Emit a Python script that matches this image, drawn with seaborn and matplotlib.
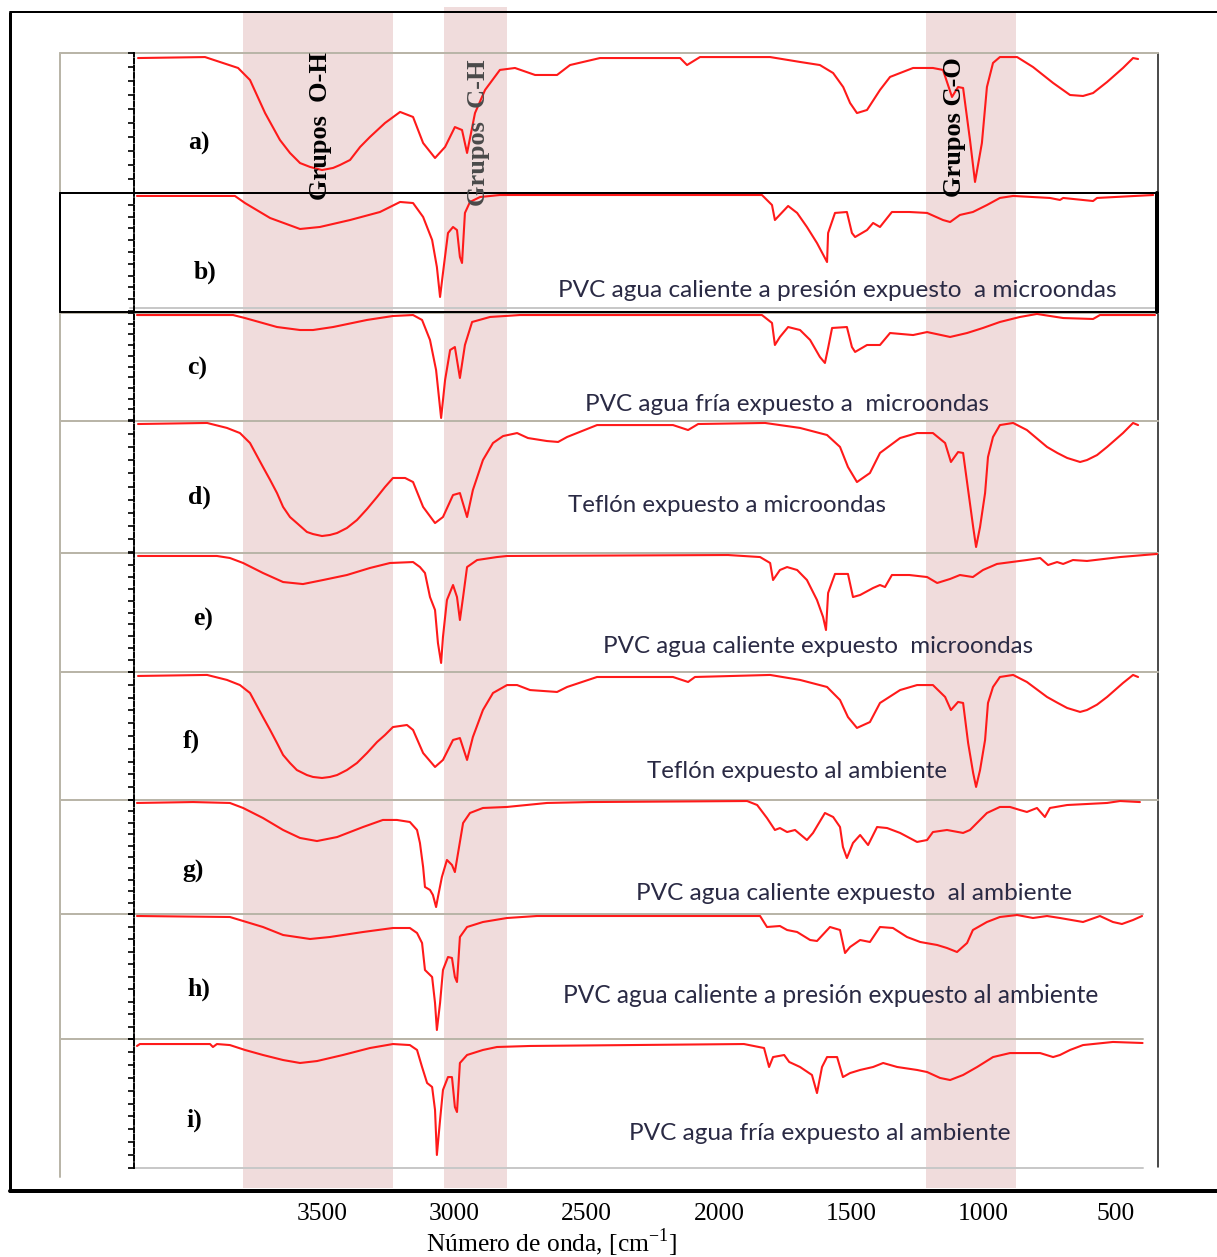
import numpy as np
import pandas as pd
import matplotlib
matplotlib.use("Agg")
import matplotlib.pyplot as plt
import seaborn as sns
from matplotlib.patches import Rectangle

# ---------------------------------------------------------------- data
# FTIR spectra: wavenumber [cm-1] and transmittance [% of panel height]
A_WN = [4195, 3942, 3817, 3772, 3715, 3659, 3621, 3583, 3545, 3500, 3458, 3432, 3394, 3356, 3319, 3262, 3205, 3156, 3118, 3073,
        3035, 2998, 2971, 2952, 2922, 2884, 2828, 2771, 2695, 2612, 2563, 2450, 2147, 2121, 2072, 1807, 1694, 1619, 1569, 1531,
        1505, 1479, 1441, 1392, 1354, 1267, 1192, 1154, 1120, 1097, 1078, 1052, 1033, 1007, 988, 965, 939, 874, 814, 738,
        674, 625, 587, 534, 474, 436, 417]
A_T = [96.4, 97.1, 89.3, 80.7, 57.1, 37.9, 28.6, 21.4, 18.6, 16.4, 17.9, 20.0, 23.6, 32.9, 40.0, 50.0, 57.9, 54.3, 35.7, 25.0,
       32.9, 47.1, 45.0, 28.6, 57.1, 73.6, 87.9, 89.3, 84.3, 84.3, 91.4, 96.4, 96.4, 91.4, 97.1, 97.1, 93.6, 91.4, 85.7, 75.7,
       64.3, 57.1, 59.3, 73.6, 82.9, 89.3, 89.3, 87.9, 68.6, 75.7, 75.0, 37.9, 7.9, 35.7, 75.7, 92.9, 97.1, 97.1, 90.0, 78.6,
       70.0, 69.3, 71.4, 79.3, 89.3, 96.4, 95.7]

B_WN = [4199, 3829, 3791, 3696, 3583, 3508, 3394, 3281, 3205, 3156, 3118, 3084, 3066, 3054, 3043, 3024, 3005, 2990, 2979, 2971,
        2960, 2941, 2903, 2828, 1838, 1800, 1789, 1739, 1705, 1668, 1630, 1600, 1592, 1588, 1562, 1517, 1498, 1486, 1441, 1418,
        1392, 1347, 1281, 1214, 1154, 1127, 1090, 1041, 988, 939, 889, 750, 712, 700, 587, 572, 360]
B_T = [97.5, 97.5, 91.5, 78.8, 69.5, 71.2, 77.1, 83.9, 92.4, 91.5, 79.7, 60.2, 37.3, 11.9, 32.2, 66.1, 71.2, 68.6, 45.8, 40.7,
       83.1, 92.4, 96.6, 98.3, 98.3, 89.8, 77.1, 89.0, 83.1, 71.2, 57.6, 44.9, 41.5, 66.1, 83.1, 83.9, 66.1, 62.7, 68.6, 74.6,
       71.2, 83.9, 83.9, 83.1, 77.1, 75.4, 81.4, 83.9, 89.8, 95.8, 97.5, 95.8, 94.1, 95.8, 93.2, 95.8, 98.3]

C_WN = [4199, 3836, 3791, 3670, 3583, 3534, 3458, 3330, 3232, 3156, 3122, 3092, 3069, 3050, 3035, 3016, 2998, 2979, 2960, 2933,
        2865, 2752, 1838, 1800, 1789, 1770, 1739, 1694, 1656, 1619, 1600, 1588, 1573, 1517, 1498, 1486, 1441, 1392, 1354, 1267,
        1214, 1127, 1063, 1003, 939, 863, 799, 700, 587, 561, 353]
C_T = [98.1, 98.1, 95.3, 86.9, 84.1, 84.1, 86.9, 93.5, 97.2, 98.1, 93.5, 74.8, 46.7, 1.9, 37.4, 65.4, 68.2, 39.3, 70.1, 91.6,
       96.3, 98.1, 98.1, 90.7, 70.1, 77.6, 86.9, 84.1, 74.8, 58.9, 53.3, 67.3, 86.0, 86.9, 68.2, 63.6, 70.1, 70.1, 81.3, 79.4,
       82.2, 77.6, 81.3, 86.0, 91.6, 96.3, 99.1, 95.3, 94.4, 98.1, 98.1]

D_WN = [4195, 3934, 3859, 3810, 3772, 3723, 3696, 3670, 3647, 3621, 3595, 3557, 3534, 3500, 3470, 3443, 3406, 3368, 3330, 3292,
        3262, 3232, 3186, 3156, 3118, 3073, 3043, 3005, 2979, 2952, 2930, 2892, 2854, 2816, 2763, 2722, 2650, 2608, 2574, 2461,
        2174, 2117, 2079, 1826, 1694, 1592, 1543, 1513, 1479, 1430, 1392, 1316, 1252, 1192, 1146, 1124, 1097, 1078, 1059, 1040,
        1029, 1014, 995, 984, 965, 939, 889, 837, 761, 722, 685, 636, 610, 572, 534, 474, 436, 417]
D_T = [97.7, 98.5, 94.7, 90.8, 83.2, 64.9, 55.0, 45.0, 34.4, 26.7, 22.1, 15.3, 13.7, 12.2, 13.0, 14.5, 18.3, 24.4, 32.8, 42.0,
       49.6, 56.5, 56.5, 53.4, 34.4, 22.1, 26.7, 43.5, 45.0, 26.7, 47.3, 70.2, 83.2, 88.5, 90.8, 87.0, 84.7, 84.0, 87.8, 96.9,
       96.9, 93.1, 97.7, 98.5, 94.7, 89.3, 80.2, 64.9, 53.4, 60.3, 75.6, 87.0, 90.8, 90.8, 83.2, 68.7, 76.3, 75.6, 47.3, 19.1,
       3.8, 19.1, 45.0, 72.5, 87.8, 96.9, 98.5, 93.1, 80.2, 75.6, 71.8, 68.7, 70.2, 74.0, 80.2, 90.8, 98.5, 96.9]

E_WN = [4195, 3897, 3848, 3798, 3723, 3647, 3572, 3496, 3406, 3319, 3243, 3156, 3130, 3111, 3092, 3073, 3062, 3050, 3043, 3028,
        3005, 2990, 2979, 2967, 2952, 2914, 2839, 2801, 1966, 1845, 1807, 1796, 1770, 1743, 1705, 1668, 1630, 1607, 1596, 1588,
        1562, 1513, 1494, 1467, 1418, 1392, 1373, 1347, 1281, 1214, 1176, 1127, 1090, 1041, 1003, 950, 837, 787, 757, 723,
        700, 663, 610, 485, 345]
E_T = [97.5, 97.5, 95.8, 91.6, 83.2, 75.6, 73.9, 77.3, 81.5, 87.4, 91.6, 92.4, 88.2, 83.2, 63.0, 52.1, 24.4, 7.6, 29.4, 60.5,
       73.1, 63.0, 43.7, 63.0, 88.2, 94.1, 96.6, 97.5, 98.3, 96.6, 91.6, 77.3, 85.7, 88.2, 85.7, 77.3, 60.5, 46.2, 35.3, 66.4,
       82.4, 82.4, 63.0, 64.7, 70.6, 73.1, 71.4, 81.5, 81.5, 79.8, 74.8, 78.2, 81.5, 79.8, 85.7, 90.8, 94.1, 95.8, 89.9, 92.4,
       90.8, 94.1, 93.3, 96.6, 99.2]

F_WN = [4195, 3934, 3859, 3810, 3772, 3723, 3696, 3670, 3647, 3621, 3595, 3557, 3534, 3500, 3470, 3443, 3406, 3368, 3330, 3292,
        3262, 3232, 3179, 3156, 3118, 3073, 3043, 3005, 2979, 2952, 2930, 2892, 2854, 2801, 2763, 2714, 2612, 2574, 2461, 2174,
        2117, 2091, 1807, 1694, 1592, 1543, 1513, 1479, 1430, 1392, 1316, 1252, 1192, 1146, 1124, 1097, 1078, 1059, 1040, 1029,
        1014, 995, 984, 965, 939, 889, 837, 761, 722, 685, 636, 610, 572, 534, 474, 436, 417]
F_T = [96.9, 97.7, 93.8, 89.8, 83.6, 64.8, 54.7, 44.5, 35.2, 28.9, 23.4, 19.5, 18.0, 17.2, 18.0, 19.5, 23.4, 28.9, 36.7, 45.3,
       50.8, 57.0, 58.6, 54.7, 36.7, 25.8, 31.3, 46.9, 48.4, 31.3, 49.2, 70.3, 83.6, 89.8, 89.8, 85.9, 84.4, 88.3, 96.1, 96.1,
       92.2, 96.1, 97.7, 93.8, 88.3, 78.1, 64.8, 56.3, 60.9, 75.8, 85.9, 89.8, 89.8, 80.5, 70.3, 76.6, 75.8, 44.5, 21.1, 10.2,
       23.4, 46.9, 75.8, 88.3, 96.1, 97.7, 92.2, 80.5, 76.0, 71.9, 68.8, 70.3, 74.5, 80.5, 91.4, 97.7, 96.1]

G_WN = [4199, 3987, 3848, 3798, 3723, 3647, 3583, 3519, 3443, 3345, 3270, 3217, 3168, 3141, 3130, 3118, 3111, 3092, 3081, 3069,
        3062, 3047, 3028, 3009, 2998, 2986, 2967, 2941, 2892, 2801, 2650, 2487, 1894, 1856, 1819, 1789, 1770, 1743, 1713, 1668,
        1645, 1600, 1569, 1543, 1532, 1517, 1494, 1467, 1437, 1403, 1365, 1316, 1252, 1214, 1192, 1139, 1078, 1052, 988, 939,
        901, 863, 837, 799, 769, 750, 685, 534, 485, 410]
G_T = [97.4, 98.2, 97.4, 93.0, 84.2, 73.7, 66.7, 64.0, 67.5, 76.3, 82.5, 82.5, 80.7, 73.7, 62.3, 41.2, 23.7, 21.1, 16.7, 6.1,
       14.9, 32.5, 47.4, 43.0, 36.8, 53.5, 79.8, 88.6, 93.0, 93.9, 97.4, 98.2, 99.1, 95.6, 84.2, 73.7, 75.4, 71.9, 73.7, 64.9,
       71.1, 88.6, 85.1, 76.3, 58.8, 49.1, 62.3, 69.3, 60.5, 76.3, 75.4, 71.1, 63.2, 64.9, 71.9, 73.7, 71.1, 73.7, 88.6, 93.9,
       93.9, 91.2, 89.5, 93.0, 85.1, 93.0, 95.6, 97.4, 99.1, 98.2]

H_WN = [4199, 3848, 3798, 3723, 3647, 3545, 3470, 3345, 3232, 3168, 3141, 3122, 3111, 3084, 3073, 3066, 3054, 3043, 3024, 3009,
        2998, 2990, 2979, 2952, 2892, 2801, 2688, 1845, 1819, 1770, 1743, 1705, 1656, 1630, 1581, 1543, 1524, 1505, 1467, 1430,
        1392, 1343, 1290, 1240, 1176, 1139, 1101, 1063, 1041, 988, 939, 874, 814, 761, 712, 625, 561, 512, 478, 436, 402]
H_T = [98.4, 97.6, 94.4, 89.6, 83.2, 80.0, 81.6, 85.6, 88.8, 88.8, 84.8, 76.8, 55.2, 49.6, 28.8, 7.2, 28.8, 55.2, 65.6, 64.8,
       49.6, 45.6, 81.6, 89.6, 93.6, 96.8, 98.4, 98.4, 89.6, 90.4, 87.2, 85.6, 79.2, 78.4, 89.6, 87.2, 68.8, 73.6, 79.2, 77.6,
       89.6, 88.8, 81.6, 77.6, 75.2, 72.8, 69.6, 76.8, 87.2, 93.6, 97.6, 99.2, 96.8, 98.4, 96.8, 93.6, 98.4, 93.6, 92.0, 95.2, 98.4]

I_WN = [4199, 4188, 3923, 3912, 3897, 3848, 3791, 3723, 3647, 3583, 3519, 3421, 3319, 3232, 3168, 3141, 3122, 3103, 3084, 3073,
        3066, 3054, 3043, 3024, 3009, 2998, 2990, 2979, 2952, 2892, 2839, 2714, 1906, 1830, 1811, 1796, 1754, 1735, 1694, 1649,
        1630, 1611, 1592, 1554, 1532, 1505, 1467, 1418, 1380, 1327, 1252, 1214, 1165, 1127, 1078, 1025, 965, 901, 787, 738,
        712, 674, 625, 512, 400]
I_T = [94.6, 96.1, 96.1, 93.8, 96.1, 95.3, 91.5, 87.6, 83.7, 81.4, 82.9, 87.6, 93.0, 96.1, 95.3, 91.5, 78.3, 65.9, 62.8, 45.0,
       10.1, 37.2, 60.5, 70.5, 70.5, 47.3, 43.4, 81.4, 87.6, 91.5, 93.8, 94.6, 96.1, 93.0, 78.3, 86.0, 87.6, 82.2, 78.3, 72.1,
       58.1, 78.3, 86.0, 86.0, 70.5, 73.6, 76.0, 78.3, 81.4, 78.3, 76.0, 74.4, 69.8, 68.2, 72.1, 78.3, 86.0, 89.1, 89.1, 86.0,
       87.6, 91.5, 95.3, 97.7, 96.9]

PANEL_LABELS = ["a)", "b)", "c)", "d)", "e)", "f)", "g)", "h)", "i)"]
DESCRIPTIONS = [
    "",
    "PVC agua caliente a presión expuesto  a microondas",
    "PVC agua fría expuesto a  microondas",
    "Teflón expuesto a microondas",
    "PVC agua caliente expuesto  microondas",
    "Teflón expuesto al ambiente",
    "PVC agua caliente expuesto  al ambiente",
    "PVC agua caliente a presión expuesto al ambiente",
    "PVC agua fría expuesto al ambiente",
]
SPECTRA = [(A_WN, A_T), (B_WN, B_T), (C_WN, C_T), (D_WN, D_T), (E_WN, E_T),
           (F_WN, F_T), (G_WN, G_T), (H_WN, H_T), (I_WN, I_T)]

# functional-group bands [cm-1] and their captions
BANDS = [(3800, 3232), (3039, 2801), (1218, 878)]
BAND_TEXT = ["Grupos  O-H", "Grupos  C-H", "Grupos C-O"]
WN_TICKS = [3500, 3000, 2500, 2000, 1500, 1000, 500]

# ---------------------------------------------------------------- layout (pixels)
W, H = 1217, 1257
X3500, PX_PER_WN = 322.0, 0.2647          # horizontal scale of the wavenumber axis
PANEL_LEFT, PANEL_RIGHT = 134, 1158
PANEL_TOPS = [53, 193, 313, 421, 553, 672, 800, 914, 1039]
PANEL_BOTS = [193, 311, 420, 552, 672, 800, 914, 1039, 1168]
LABEL_POS = [(199, 143), (205, 272), (197, 368), (199, 497), (203, 619),
             (191, 741), (193, 871), (199, 989), (194, 1120)]
DESC_POS = [None, (558, 1113, 297), (585, 987, 411), (568, 885, 512), (603, 1033, 653),
            (647, 947, 778), (636, 1070, 900), (563, 1097, 1003), (629, 1008, 1140)]
BAND_TEXT_POS = [(320, 126), (479, 133), (955, 127)]
BAND_TOPS = [12, 7, 12]


def wn_to_px(w):
    return X3500 + (3500 - w) * PX_PER_WN


def px_to_wn(x):
    return 3500 - (x - X3500) / PX_PER_WN


sns.set_style("white")
plt.rcParams["font.family"] = ["DejaVu Sans"]
SERIF = "Liberation Serif"

fig = plt.figure(figsize=(W / 100, H / 100), dpi=100)

# background canvas in pixel units: bands, frame, separators, text
bg = fig.add_axes([0, 0, 1, 1])
bg.set_xlim(0, W)
bg.set_ylim(H, 0)
bg.axis("off")

for (hi, lo), top in zip(BANDS, BAND_TOPS):
    x0, x1 = wn_to_px(hi), wn_to_px(lo)
    bg.add_patch(Rectangle((x0, top), x1 - x0, 1188 - top, facecolor="#f0dcdc",
                           edgecolor="none", zorder=0))

px = 0.72  # one pixel in points
SEP = "#b9b5a8"
# outer frame
bg.plot([10, 10], [12, 1192], color="black", lw=3 * px, zorder=3, solid_capstyle="butt")
bg.plot([10, W], [12, 12], color="black", lw=2 * px, zorder=3)
bg.plot([10, W], [1191, 1191], color="black", lw=4 * px, zorder=3)
# inner plot frame
bg.plot([60, 60], [53, 1177], color=SEP, lw=2 * px, zorder=2)
bg.plot([1158, 1158], [53, 1167], color="#222222", lw=1.6 * px, zorder=2)
for k, y in enumerate(PANEL_TOPS):
    if k == 1:
        continue
    right = 1143 if k >= 7 else 1158
    bg.plot([60, right], [y, y], color=SEP, lw=2 * px, zorder=2)
bg.plot([130, 1143], [1168, 1168], color="#c8c8c8", lw=2 * px, zorder=2)
bg.plot([130, 1158], [308, 308], color="#c8c8c8", lw=2 * px, zorder=2)
# boxed panel b
bg.plot([60, 1158], [193, 193], color="black", lw=2 * px, zorder=3)
bg.plot([60, 1158], [312, 312], color="black", lw=2 * px, zorder=3)
bg.plot([60, 60], [193, 312], color="black", lw=2 * px, zorder=3)
bg.plot([1157, 1157], [193, 312], color="black", lw=4 * px, zorder=3)

# spectra
for k, ((wn, tr), top, bot) in enumerate(zip(SPECTRA, PANEL_TOPS, PANEL_BOTS)):
    ax = fig.add_axes([PANEL_LEFT / W, 1 - bot / H, (PANEL_RIGHT - PANEL_LEFT) / W, (bot - top) / H])
    ax.patch.set_alpha(0)
    df = pd.DataFrame({"wn": wn, "T": tr})
    sns.lineplot(data=df, x="wn", y="T", ax=ax, color="#ff1a1a", lw=1.5,
                 sort=False, estimator=None)
    ax.set_xlim(px_to_wn(PANEL_LEFT), px_to_wn(PANEL_RIGHT))
    ax.set_ylim(0, 100)
    for s in ("top", "right", "bottom"):
        ax.spines[s].set_visible(False)
    ax.spines["left"].set_color("black")
    ax.spines["left"].set_linewidth(1.4)
    ax.spines["left"].set_linestyle((0, (2.5, 1.2)))
    ax.set_xticks([])
    ax.set_yticks(np.linspace(0, 100, 11))
    ax.tick_params(axis="y", which="both", left=True, length=4, width=1.2,
                   color="black", labelleft=False, direction="out")
    ax.set_xlabel("")
    ax.set_ylabel("")

# panel letters
for lab, (x, y) in zip(PANEL_LABELS, LABEL_POS):
    bg.text(x, y, lab, ha="center", va="center", family=SERIF, weight="bold",
            fontsize=18.5, color="black", zorder=5)

# sample descriptions, stretched to their measured widths
desc_artists = []
for text, pos in zip(DESCRIPTIONS, DESC_POS):
    if not text:
        continue
    x0, x1, yb = pos
    t = bg.text(x0, yb, text, ha="left", va="baseline", family="Lato",
                fontsize=18, color="#2a2a44", zorder=5)
    desc_artists.append((t, x1 - x0))
fig.canvas.draw()
rend = fig.canvas.get_renderer()
for t, target in desc_artists:
    w = t.get_window_extent(rend).width
    t.set_fontsize(t.get_fontsize() * target / w)

# rotated functional-group captions on top of everything
for text, (x, y), col in zip(BAND_TEXT, BAND_TEXT_POS, ["black", "#4a4a4a", "black"]):
    fig.text(x / W, 1 - y / H, text, rotation=90, ha="center", va="center",
             family=SERIF, weight="bold", fontsize=19, color=col, zorder=10)

# wavenumber axis labels
for w in WN_TICKS:
    bg.text(wn_to_px(w), 1214, str(w), ha="center", va="center", family=SERIF,
            fontsize=18.4, color="black")
bg.text(551, 1243, "Número de onda, [cm$^{\\mathregular{-1}}$]", ha="center", va="center",
        family=SERIF, fontsize=18.4, color="black")

fig.savefig("out.png", dpi=100)
